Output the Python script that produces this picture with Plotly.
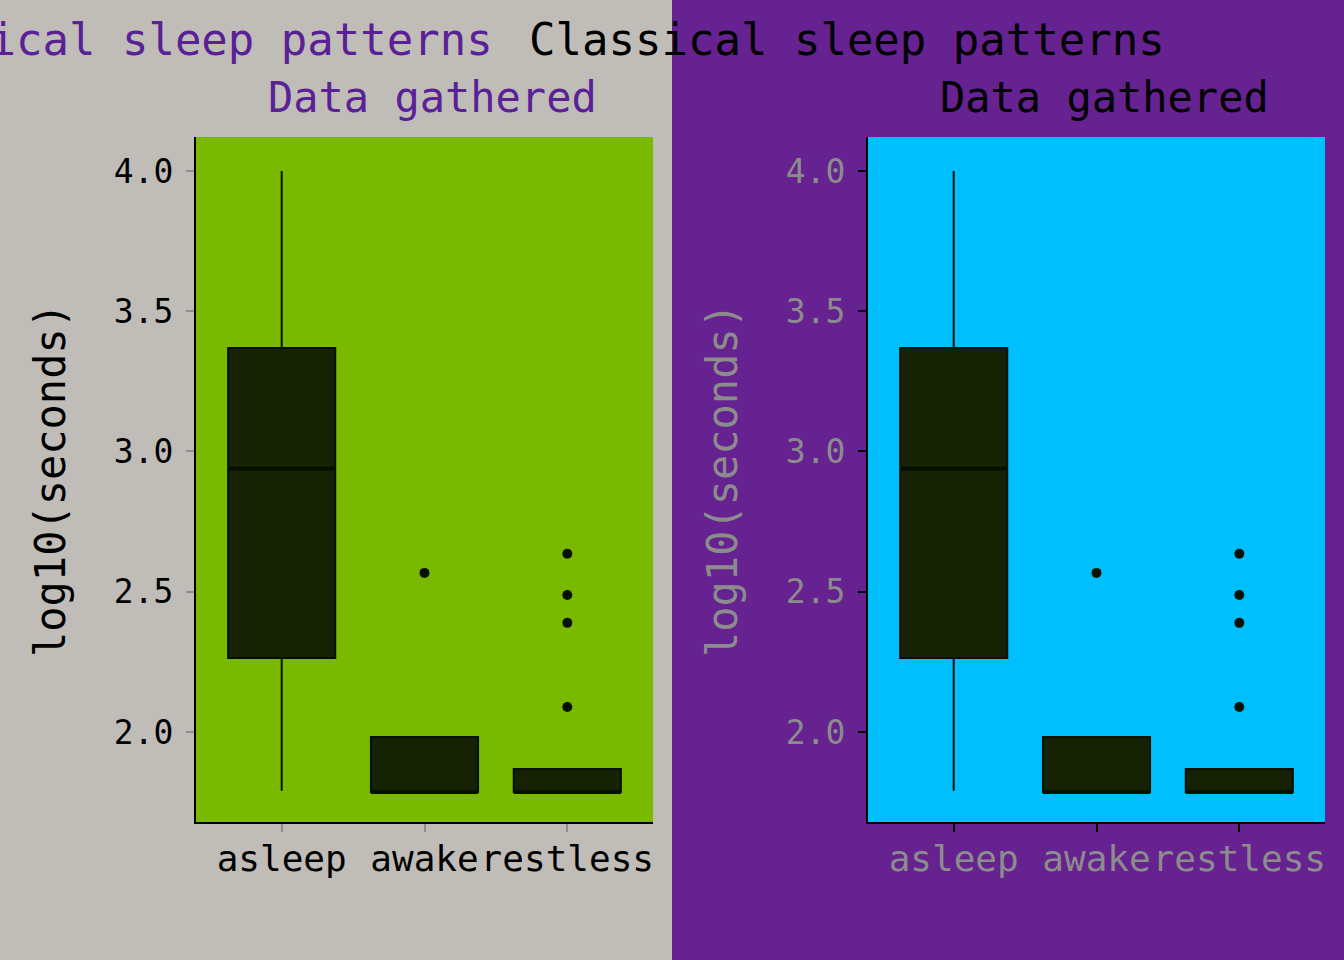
import plotly.graph_objects as go

# ---- data ----
categories = ["asleep", "awake", "restless"]
lower_whisker = [1.79, 1.786, 1.786]
q1 = [2.264, 1.786, 1.786]
median = [2.938, 1.786, 1.786]
q3 = [3.369, 1.982, 1.868]
upper_whisker = [4.0, 1.982, 1.868]
outlier_cat = ["awake", "restless", "restless", "restless", "restless"]
outlier_val = [2.567, 2.635, 2.488, 2.389, 2.089]
y_ticks = [2.0, 2.5, 3.0, 3.5, 4.0]
y_tick_text = ["2.0", "2.5", "3.0", "3.5", "4.0"]
title_text = "Classical sleep patterns"
subtitle_text = "Data gathered"
y_title = "log10(seconds)"

W, H = 1344, 960
FONT = "DejaVu Sans Mono"

panels = [
    dict(xa="x", ya="y", x0=196, x1=653, plotbg="#79B900", tickcolor="#8C8C8C",
         textcolor="#000000", titlecolor="#5A2196", offset=0),
    dict(xa="x2", ya="y2", x0=868, x1=1325, plotbg="#00BFFF", tickcolor="#000000",
         textcolor="#8C8C8C", titlecolor="#000000", offset=672),
]

fig = go.Figure()
shapes = [dict(type="rect", xref="paper", yref="paper", x0=0.5, x1=1, y0=0, y1=1,
               fillcolor="#652290", line=dict(width=0), layer="below")]
annotations = []
ytop, ybot = 137, 822

for i, p in enumerate(panels):
    fig.add_trace(go.Box(
        x=categories, q1=q1, median=median, q3=q3,
        lowerfence=lower_whisker, upperfence=upper_whisker,
        boxpoints=False, width=0.75, whiskerwidth=0,
        fillcolor="#172205", line=dict(color="#041000", width=2),
        xaxis=p["xa"], yaxis=p["ya"], showlegend=False, hoverinfo="skip"))
    # thicker median bar
    fig.add_trace(go.Box(
        x=categories, q1=median, median=median, q3=median,
        lowerfence=median, upperfence=median,
        boxpoints=False, width=0.75, whiskerwidth=0,
        fillcolor="#031200", line=dict(color="#031200", width=4),
        xaxis=p["xa"], yaxis=p["ya"], showlegend=False, hoverinfo="skip"))
    fig.add_trace(go.Scatter(
        x=outlier_cat, y=outlier_val, mode="markers",
        marker=dict(color="#061200", size=10),
        xaxis=p["xa"], yaxis=p["ya"], showlegend=False, hoverinfo="skip"))
    sfx = "" if i == 0 else "2"
    shapes.append(dict(type="rect", xref=f"x{sfx} domain", yref=f"y{sfx} domain",
                       x0=0, x1=1, y0=0, y1=1, fillcolor=p["plotbg"],
                       line=dict(width=0), layer="below"))
    fig.update_layout(**{
        f"xaxis{sfx}": dict(
            domain=[p["x0"] / W, p["x1"] / W], anchor=f"y{sfx}",
            type="category", range=[-0.6, 2.6], automargin=False, tickangle=0,
            showline=True, linecolor="#000000", linewidth=2,
            ticks="outside", ticklen=8, tickwidth=2, tickcolor=p["tickcolor"],
            ticklabelstandoff=-4,
            showgrid=False, zeroline=False,
            tickfont=dict(family=FONT, size=36, color=p["textcolor"])),
        f"yaxis{sfx}": dict(
            domain=[1 - ybot / H, 1 - ytop / H], anchor=f"x{sfx}",
            range=[1.679, 4.121], tickvals=y_ticks, ticktext=y_tick_text,
            automargin=False,
            showline=True, linecolor="#000000", linewidth=2,
            ticks="outside", ticklen=8, tickwidth=2, tickcolor=p["tickcolor"],
            ticklabelstandoff=6,
            showgrid=False, zeroline=False,
            tickfont=dict(family=FONT, size=33, color=p["textcolor"])),
    })
    annotations.append(dict(
        text=y_title, xref="paper", yref="paper", textangle=-90,
        x=(50 + p["offset"]) / W, y=1 - 480 / H, xanchor="center", yanchor="middle",
        showarrow=False, font=dict(family=FONT, size=42, color=p["textcolor"])))

# titles: left panel title purple, right panel title black (drawn on top)
for p in panels:
    annotations.append(dict(
        text=title_text, xref="paper", yref="paper",
        x=(175 + p["offset"]) / W, y=1 - 40 / H, xanchor="center", yanchor="middle",
        showarrow=False, font=dict(family=FONT, size=44, color=p["titlecolor"])))
    annotations.append(dict(
        text=subtitle_text, xref="paper", yref="paper",
        x=(432 + p["offset"]) / W, y=1 - 97 / H, xanchor="center", yanchor="middle",
        showarrow=False, font=dict(family=FONT, size=42, color=p["titlecolor"])))

fig.update_layout(
    width=W, height=H, margin=dict(l=0, r=0, t=0, b=0, autoexpand=False),
    paper_bgcolor="#C0BDB8", plot_bgcolor="rgba(0,0,0,0)",
    shapes=shapes, annotations=annotations, showlegend=False,
)

fig.write_html(
    "out.html",
    config={"displayModeBar": False},
    post_script="document.body.style.margin='0';document.body.style.overflow='hidden';",
)
